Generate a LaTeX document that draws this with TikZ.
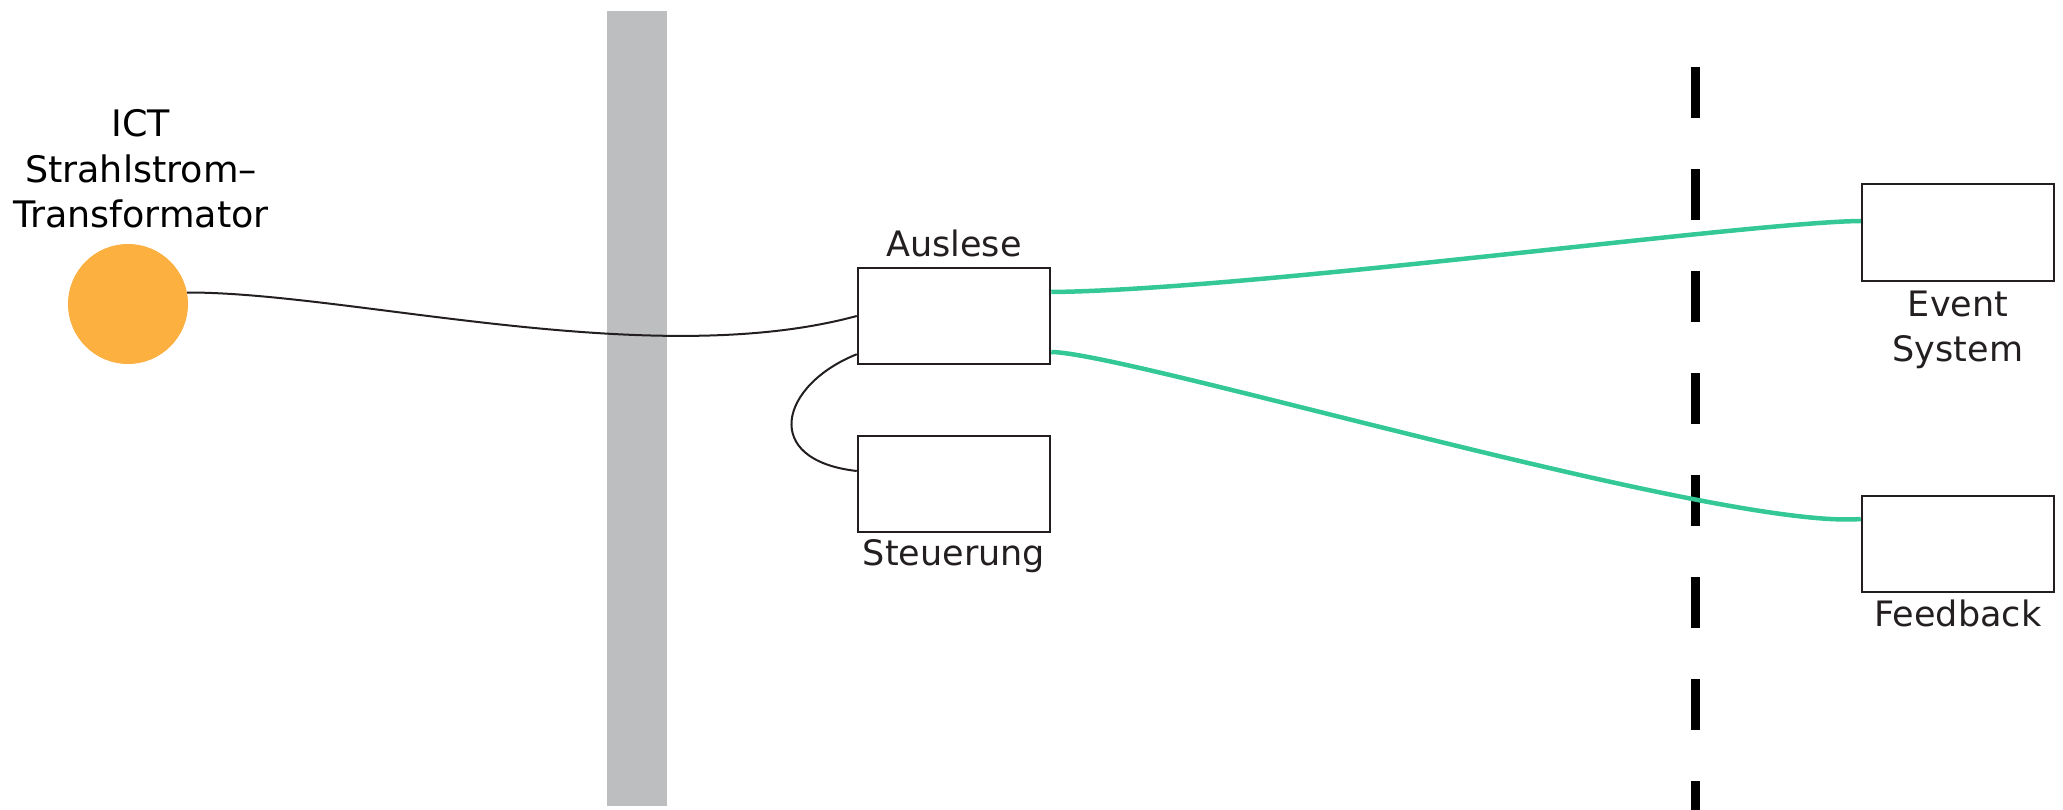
\documentclass[tikz,border=0pt]{standalone}
\usepackage{fontspec}
\setmainfont{DejaVu Sans}
\definecolor{bargray}{HTML}{BCBEC0}
\definecolor{ictorange}{HTML}{FBB040}
\definecolor{linkgreen}{HTML}{33C896}
\definecolor{boxline}{HTML}{231F20}
\begin{document}
\begin{tikzpicture}[x=1pt,y=-1pt,
  box/.style={draw=boxline,line width=2.5pt,fill=white,inner sep=0pt,minimum width=192pt,minimum height=96pt},
  lbl/.style={font=\fontsize{35}{45}\selectfont,text=boxline,align=center,inner sep=0pt,anchor=base},
  wire/.style={draw=boxline,line width=2pt},
  gwire/.style={draw=linkgreen,line width=4.5pt}]
\useasboundingbox (0,0) rectangle (2063,810);
% grey wall
\fill[bargray] (607,11) rectangle (667,806);
% dashed boundary
\draw[line width=9pt,dash pattern=on 51pt off 51pt] (1695.5,67) -- (1695.5,810);
% ICT
\node[circle,fill=ictorange,minimum size=120pt,inner sep=0pt] (ict) at (128,304) {};
\node[lbl,font=\fontsize{36.5}{45.5}\selectfont,text=black] (ictlbl) at (141,228) {ICT\\Strahlstrom–\\Transformator};
% boxes
\node[box] (aus) at (954,316) {};
\node[lbl] (auslbl) at (954,257) {Auslese};
\node[box] (ste) at (954,484) {};
\node[lbl] (stelbl) at (954,565) {Steuerung};
\node[box,minimum height=97pt] (ev) at (1958,232.5) {};
\node[lbl] (evlbl) at (1958,361) {Event\\System};
\node[box] (fb) at (1958,544) {};
\node[lbl] (fblbl) at (1958,626) {Feedback};
% connectors
\draw[wire] (ict.11.5) .. controls (350,292) and (650,372) .. (aus.west);
\draw[wire] ([yshift=11pt]aus.south west) .. controls (780,385) and (760,460) .. ([yshift=13pt]ste.west);
\draw[gwire] ([yshift=24pt]aus.east) .. controls (1250,290) and (1750,222) .. ([yshift=11.5pt]ev.west);
\draw[gwire] ([yshift=-36pt]aus.east) .. controls (1130,353) and (1720,530) .. ([yshift=25pt]fb.west);
\end{tikzpicture}
\end{document}
